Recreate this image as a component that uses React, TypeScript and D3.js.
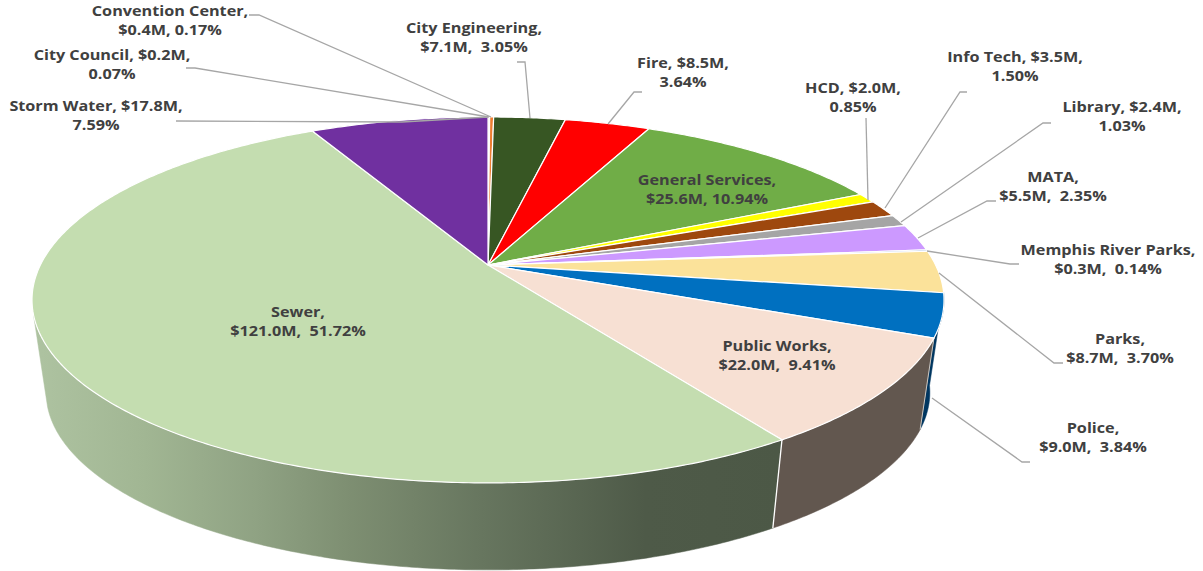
import React from "react";
import * as d3 from "d3";

const names = ["City Council","Convention Center","City Engineering","Fire","General Services","HCD","Info Tech","Library","MATA","Memphis River Parks","Parks","Police","Public Works","Sewer","Storm Water"];
const percents = [0.07,0.17,3.05,3.64,10.94,0.85,1.5,1.03,2.35,0.14,3.7,3.84,9.41,51.72,7.59];
const topColors = ["#f3dfcf","#ed7d31","#375623","#ff0000","#70ad47","#ffff00","#9e480e","#a5a5a5","#cc99ff","#b4c7e7","#fbe29a","#0070c0","#f7e0d3","#c4ddb0","#7030a0"];
// side wall colour for the slices whose wall is visible (index -> fill)
const sideColors: Record<number, string> = { 11: "#003660", 12: "#62574f", 13: "url(#sewerSide)" };
const sewerStops: [number, string][] = [[0,"#aec3a1"],[0.15,"#a1b693"],[0.3,"#8fa283"],[0.42,"#7e8f72"],[0.6,"#67765f"],[0.82,"#4e5a48"],[1,"#4c5846"]];

const labelLines: [string, string][] = [
  ["City Council, $0.2M,", "0.07%"],
  ["Convention Center,", "$0.4M, 0.17%"],
  ["City Engineering,", "$7.1M,  3.05%"],
  ["Fire, $8.5M,", "3.64%"],
  ["General Services,", "$25.6M, 10.94%"],
  ["HCD, $2.0M,", "0.85%"],
  ["Info Tech, $3.5M,", "1.50%"],
  ["Library, $2.4M,", "1.03%"],
  ["MATA,", "$5.5M,  2.35%"],
  ["Memphis River Parks,", "$0.3M,  0.14%"],
  ["Parks,", "$8.7M,  3.70%"],
  ["Police,", "$9.0M,  3.84%"],
  ["Public Works,", "$22.0M,  9.41%"],
  ["Sewer,", "$121.0M,  51.72%"],
  ["Storm Water, $17.8M,", "7.59%"],
];
const labelX = [112,170,474,683,707,853,1015,1122,1053,1108,1120,1093,777,298,96];
const labelY = [55,11,28,63,180,88,57,107,177,250,339,428,346,312,106];
const leaders: [number, number][][] = [
  [[186,68],[195,68],[489,117]],
  [[249,15],[259,15],[491,117]],
  [[517,62],[525,62],[530,118]],
  [[642,92],[634,92],[608,124]],
  [],
  [[866,118],[868,200]],
  [[967,92],[960,92],[885,208]],
  [[1051,123],[1043,123],[901,222]],
  [[996,201],[987,201],[918,238]],
  [[1019,264],[1010,264],[927,251]],
  [[1063,363],[1054,363],[939,273]],
  [[1030,462],[1022,462],[932,398]],
  [],
  [],
  [[176,121],[402,122],[488,117]],
];

const CX = 488, CY = 265;
const K = -0.191, A = 447.6, S = 176.3;
const WALL = 0.969, WALL_Y = 358.7;
// angle of the left silhouette, where the visible wall of the big slice stops
const WALL_END = (254.4 * Math.PI) / 180;

function top(t: number): [number, number] {
  const X = Math.sin(t), Y = -Math.cos(t);
  const w = 1 + K * Y;
  return [CX + (A * X) / w, CY + (S * Y) / w];
}
function bottom(t: number): [number, number] {
  const [x, y] = top(t);
  return [CX + (x - CX) * WALL, WALL_Y + (y - CY) * WALL];
}
function sample(a: number, b: number, f: (t: number) => [number, number]) {
  const n = Math.max(2, Math.ceil(Math.abs(b - a) / 0.01));
  return d3.range(n + 1).map((i) => f(a + ((b - a) * i) / n));
}

const pieGen = d3.pie<number>().sort(null).value((d) => d);
const arcs = pieGen(percents);
const path = d3.line();

export default function App() {
  const gx = d3.scaleLinear().domain([0, 1]).range([33, 780]);
  const walls = [13, 11, 12];
  return (
    <svg width={1203} height={571} style={{ position: "absolute", left: 0, top: 0, background: "#fff" }}
      fontFamily="'Open Sans', sans-serif">
      <defs>
        <linearGradient id="sewerSide" gradientUnits="userSpaceOnUse" x1={gx(0)} x2={gx(1)} y1={0} y2={0}>
          {sewerStops.map(([o, c]) => <stop key={o} offset={o} stopColor={c} />)}
        </linearGradient>
      </defs>
      {walls.map((i) => {
        const a = arcs[i];
        const end = Math.min(a.endAngle, WALL_END);
        const up = sample(a.startAngle, end, top);
        const lo = sample(a.startAngle, end, bottom).reverse();
        return <path key={"w" + i} d={path([...up, ...lo])! + "Z"} fill={sideColors[i]} stroke={sideColors[i]} strokeWidth={0.5} />;
      })}
      {[arcs[12].startAngle, arcs[12].endAngle].map((t, i) => (
        <path key={"s" + i} d={path([top(t), bottom(t)])!} stroke={i ? "#fff" : "#c9c6c2"} strokeWidth={i ? 1.3 : 1} fill="none" />
      ))}
      {arcs.map((a, i) => (
        <path key={i} d={path([[CX, CY], ...sample(a.startAngle, a.endAngle, top)])! + "Z"}
          fill={topColors[i]} stroke="#fff" strokeWidth={1.2} strokeLinejoin="round" />
      ))}
      {leaders.map((pts, i) => pts.length ? (
        <path key={"l" + i} d={path(pts)!} fill="none" stroke="#a6a6a6" strokeWidth={1.3} />
      ) : null)}
      {names.map((n, i) => (
        <text key={n} transform={`translate(${labelX[i]},0) scale(1.08,1)`} textAnchor="middle" fontSize={15} fontWeight={700} fill="#404040" style={{ whiteSpace: "pre" }}>
          <tspan x={0} y={labelY[i] + 5}>{labelLines[i][0]}</tspan>
          <tspan x={0} y={labelY[i] + 24}>{labelLines[i][1]}</tspan>
        </text>
      ))}
    </svg>
  );
}
